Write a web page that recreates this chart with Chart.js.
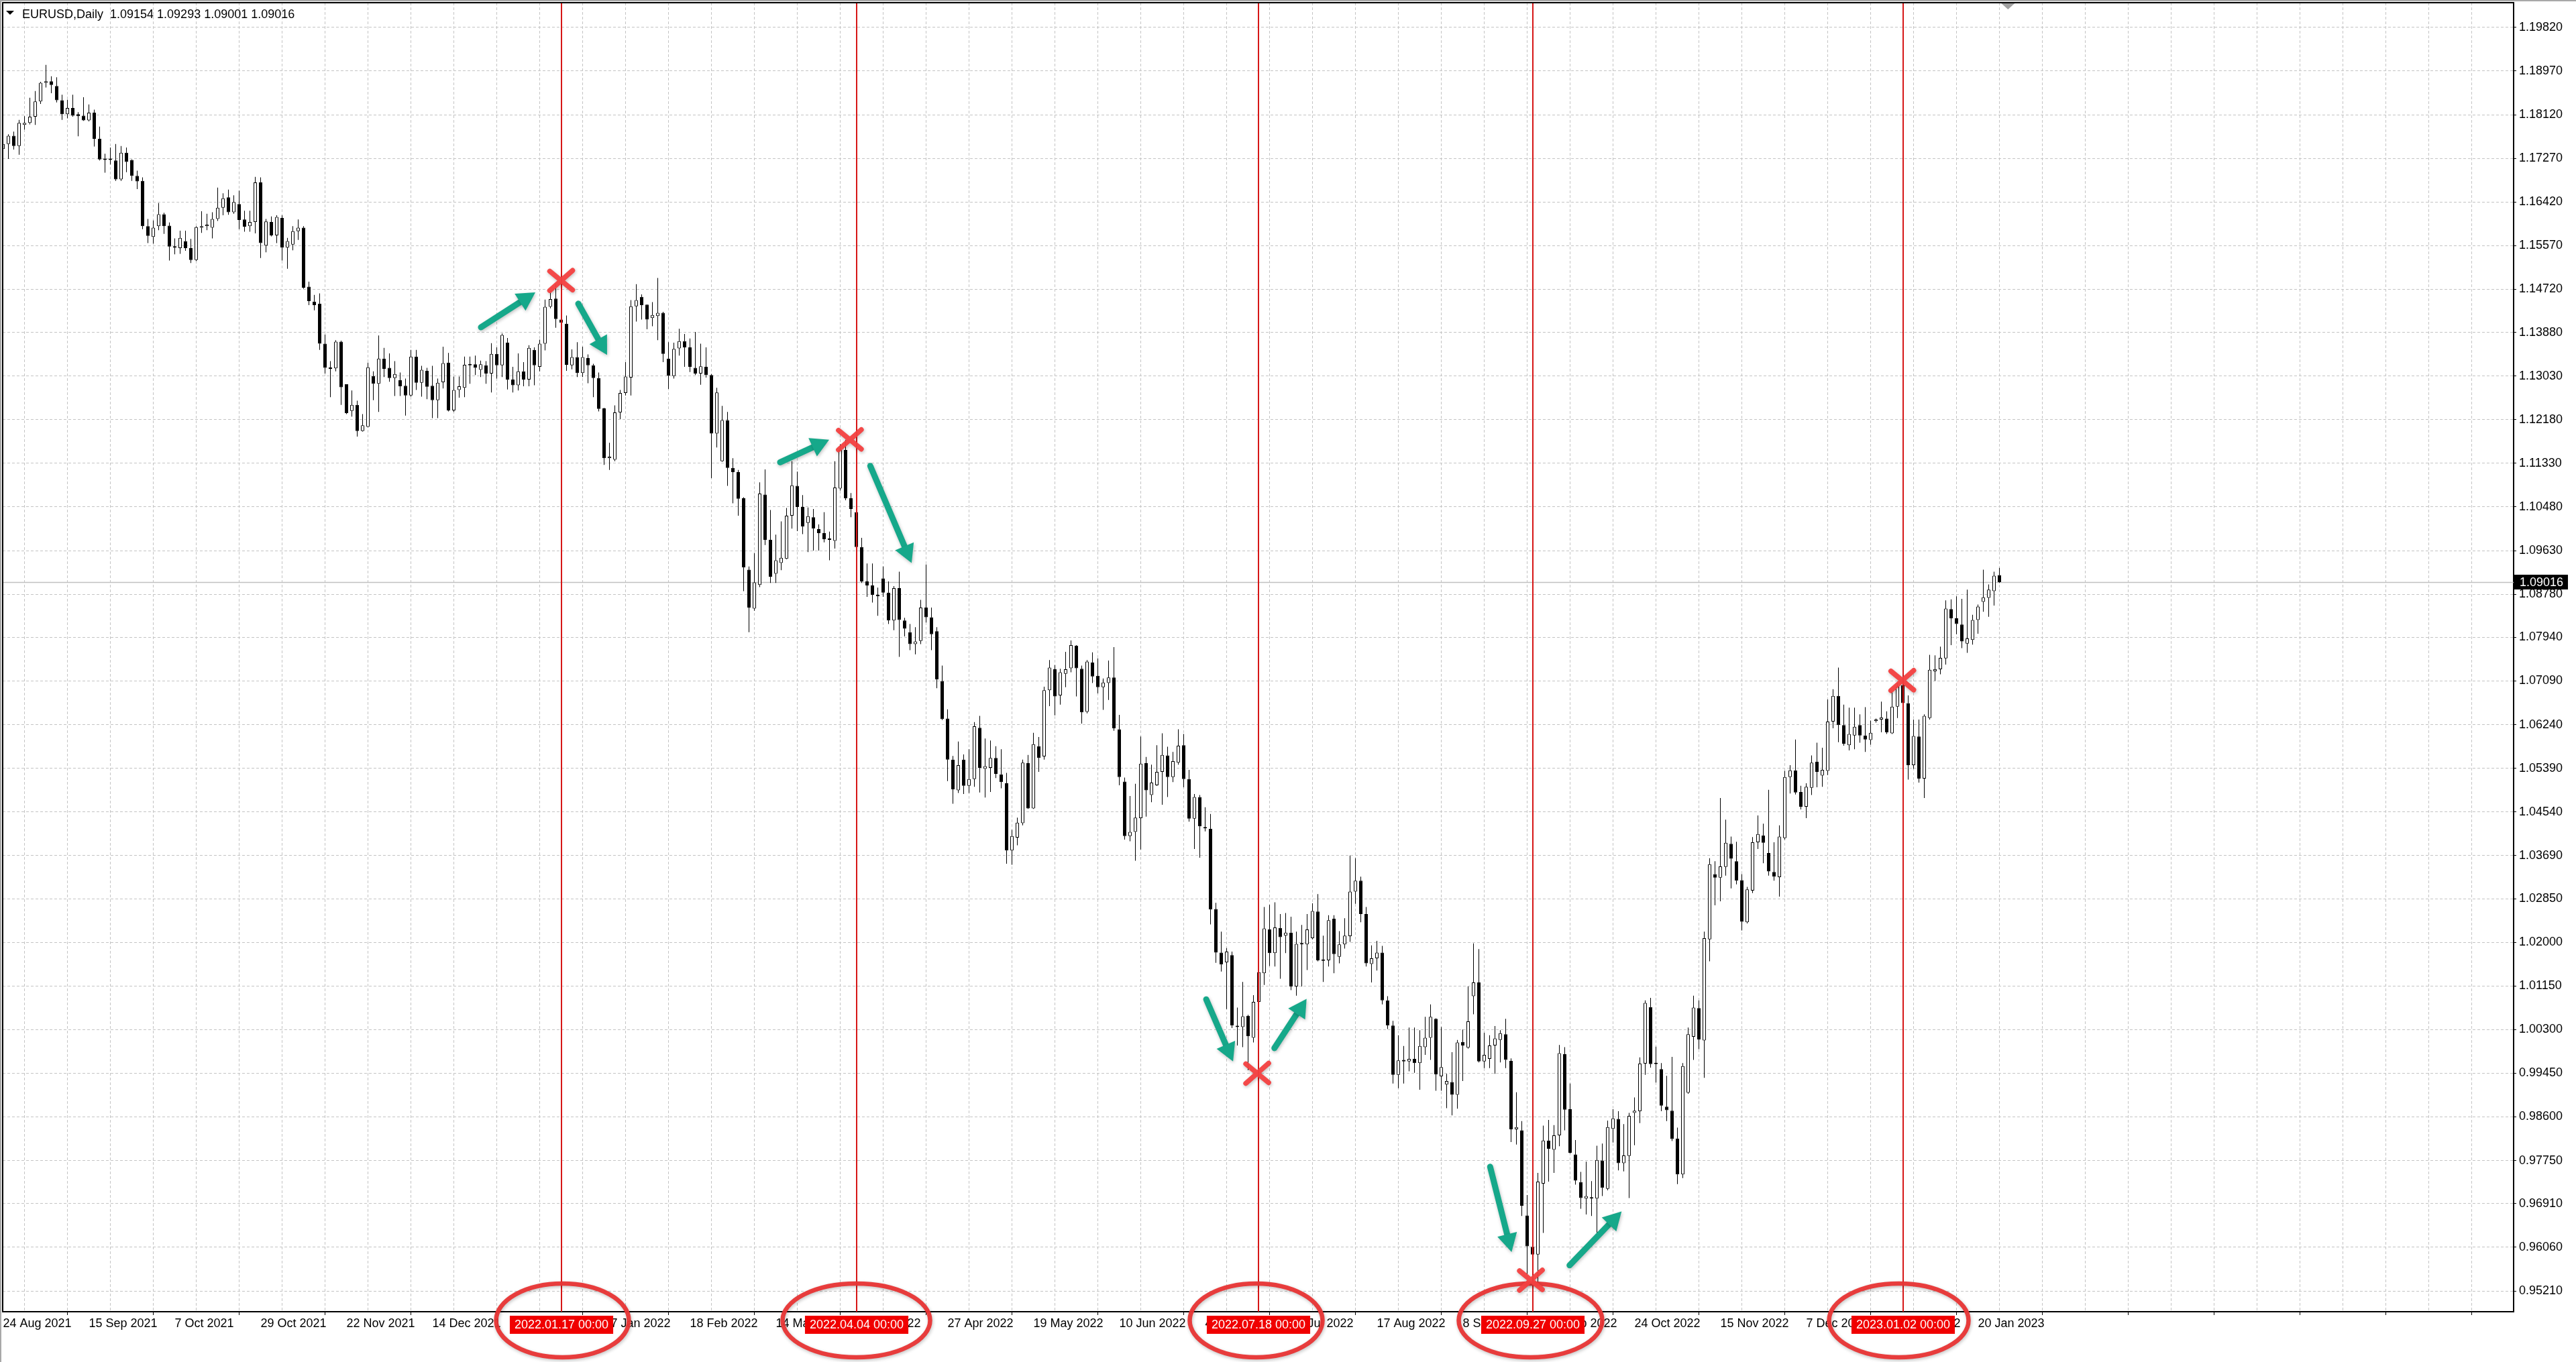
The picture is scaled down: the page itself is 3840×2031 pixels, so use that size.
<!DOCTYPE html>
<html>
<head>
<meta charset="utf-8">
<script src="https://cdn.jsdelivr.net/npm/chart.js@4.4.1/dist/chart.umd.min.js"></script>
<style>
html,body{margin:0;padding:0;background:#fff;overflow:hidden}
#wrap{position:relative;width:3840px;height:2031px}
</style>
</head>
<body>
<div id="wrap"><canvas id="c" width="3840" height="2031"></canvas></div>
<script>
// ---- EURUSD Daily, bars 0..372 (24 Aug 2021 .. 26 Jan 2023) ----
const openP = [
1.1745,1.1755,1.1771,1.1751,1.1792,1.1796,1.1808,1.1838,1.1874,1.1877,
1.1868,1.1840,1.1813,1.1825,1.1813,1.1810,1.1801,1.1816,1.1765,1.1726,
1.1725,1.1723,1.1686,1.1738,1.1724,1.1693,1.1683,1.1595,1.1574,1.1595,
1.1618,1.1596,1.1555,1.1552,1.1566,1.1552,1.1529,1.1592,1.1595,1.1592,
1.1609,1.1631,1.1651,1.1622,1.1638,1.1608,1.1595,1.1603,1.1680,1.1557,
1.1603,1.1577,1.1611,1.1553,1.1559,1.1585,1.1592,1.1477,1.1448,1.1444,
1.1366,1.1318,1.1318,1.1370,1.1287,1.1235,1.1247,1.1196,1.1204,1.1303,
1.1288,1.1337,1.1319,1.1299,1.1295,1.1284,1.1265,1.1341,1.1290,1.1313,
1.1284,1.1256,1.1291,1.1329,1.1236,1.1276,1.1280,1.1324,1.1326,1.1315,
1.1324,1.1308,1.1346,1.1324,1.1368,1.1296,1.1285,1.1312,1.1296,1.1354,
1.1321,1.1366,1.1438,1.1454,1.1413,1.1405,1.1324,1.1340,1.1309,1.1338,
1.1324,1.1299,1.1240,1.1143,1.1140,1.1232,1.1270,1.1300,1.1439,1.1457,
1.1442,1.1416,1.1420,1.1426,1.1337,1.1303,1.1357,1.1371,1.1359,1.1319,
1.1308,1.1321,1.1305,1.1191,1.1137,1.1217,1.1124,1.1116,1.1065,1.0926,
1.0850,1.0896,1.1072,1.0984,1.0918,1.0939,1.0947,1.1031,1.1089,1.1048,
1.1017,1.1028,1.1005,1.0997,1.0985,1.0982,1.1084,1.1159,1.1065,1.1038,
1.0970,1.0903,1.0895,1.0877,1.0909,1.0881,1.0827,1.0890,1.0827,1.0804,
1.0781,1.0787,1.0852,1.0833,1.0806,1.0709,1.0636,1.0556,1.0496,1.0556,
1.0505,1.0518,1.0618,1.0538,1.0540,1.0559,1.0527,1.0510,1.0379,1.0404,
1.0432,1.0549,1.0461,1.0582,1.0562,1.0691,1.0732,1.0681,1.0723,1.0734,
1.0778,1.0733,1.0649,1.0745,1.0719,1.0697,1.0705,1.0716,1.0615,1.0513,
1.0407,1.0415,1.0442,1.0549,1.0487,1.0506,1.0532,1.0564,1.0522,1.0550,
1.0584,1.0518,1.0441,1.0483,1.0424,1.0421,1.0265,1.0180,1.0161,1.0175,
1.0036,1.0035,1.0057,1.0014,1.0084,1.0140,1.0225,1.0179,1.0228,1.0213,
1.0219,1.0114,1.0198,1.0196,1.0208,1.0260,1.0165,1.0165,1.0246,1.0172,
1.0196,1.0212,1.0299,1.0320,1.0255,1.0158,1.0169,1.0180,1.0087,1.0038,
0.9942,0.9971,0.9968,0.9973,0.9965,0.9996,1.0014,1.0051,0.9939,0.9923,
0.9928,0.9903,1.0006,0.9995,1.0095,1.0122,0.9968,0.9973,0.9999,1.0010,
1.0021,0.9969,0.9836,0.9834,0.9668,0.9607,0.9592,0.9730,0.9814,0.9796,
0.9824,0.9982,0.9875,0.9787,0.9733,0.9701,0.9702,0.9701,0.9775,0.9720,
0.9837,0.9856,0.9770,0.9784,0.9868,0.9871,0.9964,1.0074,0.9963,0.9953,
0.9880,0.9872,0.9818,0.9748,0.9907,1.0016,1.0072,1.0009,1.0206,1.0333,
1.0326,1.0347,1.0392,1.0358,1.0321,1.0239,1.0301,1.0395,1.0408,1.0374,
1.0337,1.0327,1.0403,1.0522,1.0535,1.0493,1.0464,1.0501,1.0552,1.0525,
1.0534,1.0630,1.0680,1.0623,1.0584,1.0603,1.0623,1.0603,1.0594,1.0631,
1.0634,1.0636,1.0607,1.0659,1.0701,1.0666,1.0545,1.0601,1.0519,1.0637,
1.0728,1.0732,1.0753,1.0849,1.0831,1.0819,1.0782,1.0789,1.0828,1.0863,
1.0871,1.0884,1.09154
];
const highP = [
1.1766,1.1774,1.1779,1.1802,1.1809,1.1845,1.1858,1.1876,1.1909,1.1887,
1.1885,1.1851,1.1841,1.1851,1.1817,1.1846,1.1832,1.1822,1.1789,1.1736,
1.1748,1.1755,1.1751,1.1748,1.1725,1.1703,1.1690,1.1609,1.1606,1.1640,
1.1621,1.1602,1.1571,1.1586,1.1586,1.1570,1.1595,1.1624,1.1619,1.1622,
1.1670,1.1659,1.1666,1.1655,1.1664,1.1625,1.1625,1.1691,1.1690,1.1609,
1.1614,1.1616,1.1616,1.1572,1.1595,1.1608,1.1595,1.1487,1.1461,1.1464,
1.1384,1.1332,1.1373,1.1372,1.1287,1.1275,1.1255,1.1229,1.1329,1.1312,
1.1382,1.1358,1.1347,1.1332,1.1310,1.1298,1.1354,1.1354,1.1323,1.1319,
1.1323,1.1298,1.1360,1.1348,1.1302,1.1302,1.1341,1.1341,1.1343,1.1333,
1.1332,1.1367,1.1359,1.1386,1.1377,1.1321,1.1347,1.1330,1.1363,1.1359,
1.1374,1.1452,1.1469,1.1482,1.1428,1.1421,1.1355,1.1369,1.1360,1.1345,
1.1327,1.1310,1.1241,1.1173,1.1246,1.1276,1.1330,1.1451,1.1482,1.1462,
1.1442,1.1447,1.1494,1.1428,1.1369,1.1368,1.1395,1.1385,1.1376,1.1389,
1.1366,1.1359,1.1307,1.1280,1.1245,1.1233,1.1143,1.1120,1.1067,1.0932,
1.0958,1.1096,1.1121,1.1042,1.0994,1.1020,1.1046,1.1137,1.1117,1.1071,
1.1047,1.1044,1.1014,1.1038,1.1000,1.1137,1.1170,1.1179,1.1075,1.1045,
1.0988,1.0938,1.0938,1.0891,1.0932,1.0903,1.0894,1.0922,1.0832,1.0820,
1.0814,1.0867,1.0936,1.0852,1.0814,1.0739,1.0654,1.0563,1.0591,1.0566,
1.0576,1.0629,1.0641,1.0597,1.0593,1.0582,1.0576,1.0530,1.0419,1.0443,
1.0556,1.0565,1.0608,1.0600,1.0698,1.0750,1.0740,1.0733,1.0766,1.0788,
1.0779,1.0739,1.0750,1.0765,1.0753,1.0714,1.0749,1.0775,1.0643,1.0521,
1.0485,1.0509,1.0601,1.0561,1.0546,1.0584,1.0607,1.0581,1.0571,1.0615,
1.0606,1.0536,1.0489,1.0487,1.0463,1.0450,1.0277,1.0221,1.0189,1.0182,
1.0073,1.0123,1.0059,1.0097,1.0160,1.0269,1.0273,1.0278,1.0255,1.0257,
1.0250,1.0221,1.0234,1.0255,1.0276,1.0294,1.0213,1.0253,1.0253,1.0222,
1.0247,1.0369,1.0364,1.0328,1.0269,1.0194,1.0203,1.0193,1.0095,1.0047,
1.0019,0.9998,1.0034,1.0034,1.0029,1.0055,1.0079,1.0052,1.0035,0.9944,
0.9986,1.0010,1.0030,1.0114,1.0198,1.0187,1.0024,1.0019,1.0037,1.0029,
1.0051,0.9974,0.9908,0.9852,0.9708,0.9665,0.9751,0.9843,0.9854,0.9844,
1.0000,0.9996,0.9925,0.9815,0.9753,0.9773,0.9735,0.9804,0.9808,0.9853,
0.9875,0.9871,0.9846,0.9868,0.9898,0.9976,1.0087,1.0092,0.9997,0.9965,
0.9940,0.9977,0.9839,0.9965,1.0034,1.0096,1.0087,1.0221,1.0364,1.0358,
1.0481,1.0439,1.0406,1.0396,1.0333,1.0308,1.0405,1.0447,1.0431,1.0497,
1.0395,1.0428,1.0534,1.0545,1.0595,1.0505,1.0510,1.0564,1.0589,1.0579,
1.0673,1.0693,1.0735,1.0663,1.0657,1.0657,1.0644,1.0658,1.0632,1.0636,
1.0669,1.0650,1.0688,1.0705,1.0713,1.0681,1.0634,1.0634,1.0644,1.0760,
1.0759,1.0776,1.0866,1.0868,1.0874,1.0869,1.0887,1.0838,1.0858,1.0926,
1.0897,1.0922,1.09293
];
const lowP = [
1.1727,1.1726,1.1744,1.1734,1.1783,1.1793,1.1792,1.1833,1.1865,1.1854,
1.1836,1.1802,1.1805,1.1808,1.1770,1.1800,1.1799,1.1750,1.1723,1.1699,
1.1715,1.1683,1.1683,1.1700,1.1683,1.1667,1.1589,1.1562,1.1561,1.1587,
1.1580,1.1528,1.1540,1.1541,1.1547,1.1523,1.1527,1.1582,1.1587,1.1571,
1.1605,1.1616,1.1617,1.1619,1.1589,1.1584,1.1584,1.1581,1.1533,1.1544,
1.1575,1.1562,1.1528,1.1512,1.1548,1.1568,1.1473,1.1441,1.1431,1.1354,
1.1308,1.1262,1.1312,1.1247,1.1229,1.1224,1.1185,1.1195,1.1203,1.1256,
1.1233,1.1301,1.1292,1.1264,1.1264,1.1226,1.1263,1.1276,1.1263,1.1258,
1.1221,1.1221,1.1279,1.1234,1.1233,1.1261,1.1262,1.1288,1.1305,1.1301,
1.1288,1.1271,1.1298,1.1301,1.1277,1.1271,1.1275,1.1283,1.1283,1.1285,
1.1312,1.1353,1.1435,1.1397,1.1396,1.1313,1.1316,1.1301,1.1301,1.1289,
1.1262,1.1234,1.1130,1.1120,1.1137,1.1219,1.1265,1.1265,1.1409,1.1413,
1.1394,1.1400,1.1373,1.1330,1.1278,1.1298,1.1343,1.1321,1.1311,1.1305,
1.1286,1.1300,1.1104,1.1164,1.1136,1.1089,1.1055,1.1031,1.0884,1.0804,
1.0846,1.0892,1.0974,1.0900,1.0900,1.0925,1.0946,1.1006,1.1001,1.0995,
1.0960,1.0963,1.0963,1.0979,1.0944,1.0967,1.1080,1.1061,1.1028,1.0968,
1.0900,1.0873,1.0862,1.0836,1.0873,1.0820,1.0808,1.0756,1.0796,1.0769,
1.0761,1.0781,1.0823,1.0769,1.0695,1.0633,1.0514,1.0470,1.0491,1.0489,
1.0491,1.0503,1.0492,1.0482,1.0493,1.0520,1.0500,1.0353,1.0351,1.0389,
1.0428,1.0460,1.0460,1.0532,1.0556,1.0660,1.0642,1.0663,1.0697,1.0726,
1.0679,1.0626,1.0646,1.0705,1.0685,1.0653,1.0672,1.0612,1.0506,1.0400,
1.0397,1.0359,1.0381,1.0445,1.0473,1.0505,1.0468,1.0483,1.0512,1.0546,
1.0502,1.0435,1.0382,1.0365,1.0416,1.0235,1.0160,1.0143,1.0070,1.0033,
0.9999,0.9996,0.9951,1.0005,1.0078,1.0117,1.0154,1.0153,1.0129,1.0179,
1.0107,1.0096,1.0114,1.0146,1.0206,1.0163,1.0123,1.0153,1.0140,1.0159,
1.0188,1.0201,1.0275,1.0239,1.0153,1.0122,1.0145,1.0079,1.0031,0.9925,
0.9916,0.9925,0.9949,0.9946,0.9913,0.9981,0.9971,0.9911,0.9911,0.9877,
0.9863,0.9876,0.9930,0.9993,1.0060,0.9966,0.9955,0.9955,0.9944,0.9966,
0.9955,0.9811,0.9806,0.9667,0.9553,0.9575,0.9534,0.9634,0.9734,0.9751,
0.9803,0.9834,0.9789,0.9728,0.9681,0.9670,0.9667,0.9634,0.9706,0.9717,
0.9810,0.9756,0.9754,0.9702,0.9805,0.9848,0.9942,0.9956,0.9927,0.9871,
0.9852,0.9813,0.9729,0.9741,0.9905,0.9971,0.9992,0.9936,1.0163,1.0272,
1.0280,1.0330,1.0305,1.0313,1.0223,1.0237,1.0296,1.0382,1.0354,1.0330,
1.0320,1.0289,1.0400,1.0490,1.0488,1.0459,1.0442,1.0487,1.0502,1.0503,
1.0526,1.0617,1.0590,1.0583,1.0574,1.0576,1.0589,1.0571,1.0585,1.0628,
1.0609,1.0606,1.0606,1.0637,1.0655,1.0517,1.0538,1.0511,1.0481,1.0634,
1.0709,1.0722,1.0741,1.0779,1.0800,1.0773,1.0764,1.0780,1.0801,1.0844,
1.0834,1.0856,1.09001
];
const closeP = [
1.1755,1.1771,1.1751,1.1796,1.1796,1.1808,1.1838,1.1874,1.1877,1.1870,
1.1840,1.1813,1.1825,1.1810,1.1809,1.1801,1.1816,1.1765,1.1725,1.1724,
1.1724,1.1686,1.1738,1.1720,1.1693,1.1682,1.1595,1.1576,1.1592,1.1618,
1.1595,1.1555,1.1553,1.1572,1.1552,1.1529,1.1593,1.1595,1.1598,1.1609,
1.1631,1.1649,1.1622,1.1642,1.1607,1.1594,1.1603,1.1680,1.1562,1.1604,
1.1577,1.1613,1.1553,1.1566,1.1585,1.1592,1.1475,1.1449,1.1441,1.1366,
1.1319,1.1317,1.1370,1.1281,1.1231,1.1247,1.1196,1.1207,1.1320,1.1288,
1.1337,1.1317,1.1299,1.1307,1.1283,1.1265,1.1341,1.1290,1.1315,1.1282,
1.1256,1.1290,1.1328,1.1236,1.1276,1.1283,1.1325,1.1326,1.1319,1.1326,
1.1308,1.1346,1.1324,1.1383,1.1296,1.1285,1.1312,1.1296,1.1358,1.1324,
1.1366,1.1438,1.1453,1.1414,1.1407,1.1325,1.1340,1.1309,1.1340,1.1324,
1.1299,1.1239,1.1143,1.1146,1.1232,1.1270,1.1302,1.1439,1.1451,1.1441,
1.1413,1.1422,1.1426,1.1346,1.1304,1.1356,1.1371,1.1359,1.1321,1.1308,
1.1322,1.1305,1.1191,1.1271,1.1217,1.1124,1.1116,1.1064,1.0930,1.0852,
1.0901,1.1074,1.0984,1.0912,1.0944,1.0949,1.1031,1.1090,1.1048,1.1010,
1.1030,1.1006,1.0997,1.0985,1.0984,1.1086,1.1159,1.1065,1.1044,1.0970,
1.0903,1.0895,1.0877,1.0874,1.0881,1.0827,1.0890,1.0828,1.0811,1.0781,
1.0786,1.0852,1.0833,1.0800,1.0712,1.0635,1.0556,1.0498,1.0545,1.0505,
1.0518,1.0621,1.0540,1.0543,1.0559,1.0528,1.0512,1.0379,1.0407,1.0433,
1.0550,1.0461,1.0586,1.0559,1.0691,1.0735,1.0679,1.0726,1.0732,1.0779,
1.0734,1.0648,1.0747,1.0718,1.0697,1.0706,1.0716,1.0617,1.0522,1.0407,
1.0415,1.0443,1.0548,1.0496,1.0511,1.0532,1.0565,1.0522,1.0553,1.0583,
1.0518,1.0441,1.0483,1.0426,1.0422,1.0264,1.0180,1.0157,1.0182,1.0038,
1.0035,1.0056,1.0017,1.0084,1.0142,1.0227,1.0179,1.0229,1.0210,1.0219,
1.0114,1.0197,1.0196,1.0225,1.0261,1.0165,1.0164,1.0243,1.0177,1.0196,
1.0213,1.0299,1.0320,1.0255,1.0159,1.0169,1.0180,1.0087,1.0038,0.9942,
0.9970,0.9968,0.9973,0.9965,0.9998,1.0014,1.0055,0.9943,0.9957,0.9930,
0.9903,1.0005,0.9999,1.0046,1.0122,0.9968,0.9981,0.9999,1.0013,1.0023,
0.9971,0.9836,0.9840,0.9687,0.9608,0.9592,0.9734,0.9814,0.9798,0.9824,
0.9984,0.9874,0.9790,0.9736,0.9702,0.9706,0.9701,0.9776,0.9722,0.9840,
0.9857,0.9770,0.9785,0.9862,0.9872,0.9964,1.0082,0.9963,0.9965,0.9882,
0.9873,0.9817,0.9748,0.9959,1.0021,1.0073,1.0011,1.0208,1.0352,1.0326,
1.0348,1.0394,1.0363,1.0320,1.0240,1.0303,1.0395,1.0411,1.0394,1.0338,
1.0328,1.0406,1.0522,1.0535,1.0492,1.0464,1.0503,1.0550,1.0532,1.0536,
1.0630,1.0680,1.0623,1.0587,1.0606,1.0620,1.0603,1.0595,1.0608,1.0634,
1.0638,1.0609,1.0659,1.0698,1.0666,1.0545,1.0602,1.0519,1.0641,1.0731,
1.0732,1.0754,1.0850,1.0831,1.0820,1.0786,1.0792,1.0828,1.0854,1.0872,
1.0887,1.0914,1.09016
];

// time-axis labels (one every 16 bars, starting at bar 0)
const dateLabels = ['24 Aug 2021','15 Sep 2021','7 Oct 2021','29 Oct 2021','22 Nov 2021','14 Dec 2021',
  '5 Jan 2022','27 Jan 2022','18 Feb 2022','14 Mar 2022','5 Apr 2022','27 Apr 2022','19 May 2022',
  '10 Jun 2022','4 Jul 2022','26 Jul 2022','17 Aug 2022','8 Sep 2022','30 Sep 2022','24 Oct 2022',
  '15 Nov 2022','7 Dec 2022','29 Dec 2022','20 Jan 2023'];
// price-axis tick labels
const priceTickLabels = ['1.19820','1.18970','1.18120','1.17270','1.16420','1.15570','1.14720','1.13880',
  '1.13030','1.12180','1.11330','1.10480','1.09630','1.08780','1.07940','1.07090','1.06240','1.05390',
  '1.04540','1.03690','1.02850','1.02000','1.01150','1.00300','0.99450','0.98600','0.97750','0.96910',
  '0.96060','0.95210'];
const priceTicks = priceTickLabels.map(Number);
const lastPrice = 1.09016;
const headerSymbol = 'EURUSD,Daily';
const headerValues = '1.09154 1.09293 1.09001 1.09016';

// vertical-line markers (bar index) and their labels
const markerBars = [104, 159, 234, 285, 354];
const markerLabels = ['2022.01.17 00:00','2022.04.04 00:00','2022.07.18 00:00','2022.09.27 00:00','2023.01.02 00:00'];
// hand-drawn annotations, anchored in data space [bar, price]
const crossMarks = [[104.0,1.1489],[157.8,1.1179],[233.7,0.9945],[284.7,0.9542],[353.9,1.0710]];
const arrowMarks = [
  [89.06,1.1398, 99.19,1.1466],
  [107.19,1.1444, 112.56,1.1344],
  [144.8,1.1135, 153.94,1.1179],
  [161.6,1.1128, 169.3,1.0939],
  [224.2,1.0089, 229.2,0.9968],
  [236.9,0.9994, 242.9,1.0090],
  [277.1,0.9763, 281.1,0.9597],
  [291.9,0.9571, 301.6,0.9676]
];

// ---- styles / layout ----
const FONT = '"Liberation Sans", Arial, sans-serif';
Chart.defaults.font.family = FONT;
Chart.defaults.font.size = 18;
Chart.defaults.color = '#000';
const ellipseStyle = [{dx:2,rx:99},{dx:0,rx:110},{dx:-4,rx:99},{dx:-3,rx:107},{dx:-6,rx:104}];
const gridBars = [];
for (let v = 0; v <= 464; v += 8) gridBars.push(v);

const bodyData = openP.map((o,i)=>({x:i, y:[o, closeP[i]]}));
const wickData = lowP.map((l,i)=>({x:i, y:[l, highP[i]]}));
const bodyFill = openP.map((o,i)=> closeP[i] >= o ? '#ffffff' : '#000000');

function drawArrow(ctx, x1, y1, x2, y2){
  const dx = x2-x1, dy = y2-y1, len = Math.hypot(dx,dy);
  const ux = dx/len, uy = dy/len, nx = -uy, ny = ux;
  const HL = 27, HW = 15;
  const bx = x2 - ux*HL, by = y2 - uy*HL;
  ctx.beginPath(); ctx.moveTo(x1,y1); ctx.lineTo(bx+ux*4,by+uy*4); ctx.stroke();
  ctx.beginPath(); ctx.moveTo(x2,y2); ctx.lineTo(bx+nx*HW,by+ny*HW); ctx.lineTo(bx-nx*HW,by-ny*HW); ctx.closePath(); ctx.fill();
}

const mt4Plugin = {
  id:'mt4',
  beforeDraw(chart){
    const c = chart.ctx; c.save(); c.fillStyle = '#fff'; c.fillRect(0,0,chart.width,chart.height); c.restore();
  },
  beforeDatasetsDraw(chart){
    const {ctx, chartArea:a, scales:{y}} = chart;
    const py = Math.round(y.getPixelForValue(lastPrice)) + 0.5;
    ctx.save(); ctx.strokeStyle = '#c0c0c0'; ctx.lineWidth = 1.5;
    ctx.beginPath(); ctx.moveTo(a.left, py); ctx.lineTo(a.right, py); ctx.stroke(); ctx.restore();
  },
  afterDatasetsDraw(chart){
    const {ctx, chartArea:a, scales:{x}} = chart;
    ctx.save(); ctx.strokeStyle = 'rgb(214,22,22)'; ctx.lineWidth = 2;
    markerBars.forEach(b => { const px = Math.round(x.getPixelForValue(b));
      ctx.beginPath(); ctx.moveTo(px, a.top); ctx.lineTo(px, a.bottom); ctx.stroke(); });
    ctx.restore();
  },
  afterDraw(chart){
    const {ctx, chartArea:a, scales:{x, y}} = chart;
    ctx.save();
    // window + frame
    ctx.fillStyle = '#a8a8a8'; ctx.fillRect(0,0,chart.width,2); ctx.fillRect(0,0,2,chart.height);
    ctx.strokeStyle = '#000'; ctx.lineWidth = 2;
    ctx.beginPath(); ctx.moveTo(a.left, a.bottom); ctx.lineTo(a.left, a.top); ctx.lineTo(a.right, a.top); ctx.stroke();
    // shift marker
    const sx = x.getPixelForValue(373.6);
    ctx.fillStyle = '#a0a0a0'; ctx.beginPath(); ctx.moveTo(sx-10, a.top+1); ctx.lineTo(sx+10, a.top+1); ctx.lineTo(sx, a.top+10); ctx.closePath(); ctx.fill();
    // header
    ctx.fillStyle = '#000'; ctx.beginPath(); ctx.moveTo(9,16); ctx.lineTo(21,16); ctx.lineTo(15,22); ctx.closePath(); ctx.fill();
    ctx.font = '18px ' + FONT; ctx.textBaseline = 'alphabetic'; ctx.textAlign = 'left';
    ctx.fillText(headerSymbol, 33, 27);
    ctx.fillText(headerValues, 33 + ctx.measureText(headerSymbol + '  ').width, 27);
    // current price box
    const py = Math.round(y.getPixelForValue(lastPrice));
    ctx.fillStyle = '#000'; ctx.fillRect(a.right+1, py-11, 80, 22);
    ctx.fillStyle = '#fff'; ctx.textBaseline = 'middle'; ctx.fillText('1.09016', a.right+9, py+1);
    // marker labels on time axis
    ctx.textAlign = 'center';
    markerBars.forEach((b,i) => {
      const px = Math.round(x.getPixelForValue(b));
      const w = ctx.measureText(markerLabels[i]).width + 14;
      ctx.fillStyle = 'rgb(240,0,0)'; ctx.fillRect(px - w/2, a.bottom + 6, w, 27);
      ctx.fillStyle = '#fff'; ctx.fillText(markerLabels[i], px, a.bottom + 20);
    });
    // ellipses
    ctx.shadowColor = 'rgba(0,0,0,0.25)'; ctx.shadowBlur = 5; ctx.shadowOffsetX = 1; ctx.shadowOffsetY = 2;
    ctx.strokeStyle = 'rgba(232,52,52,0.95)'; ctx.lineWidth = 6.5;
    markerBars.forEach((b,i) => {
      const px = x.getPixelForValue(b) + ellipseStyle[i].dx;
      ctx.beginPath(); ctx.ellipse(px, a.bottom + 13, ellipseStyle[i].rx, 55, 0, 0, Math.PI*2); ctx.stroke();
    });
    // arrows
    ctx.strokeStyle = 'rgb(22,168,138)'; ctx.fillStyle = 'rgb(22,168,138)'; ctx.lineWidth = 9; ctx.lineCap = 'round'; ctx.lineJoin = 'round';
    arrowMarks.forEach(m => drawArrow(ctx, x.getPixelForValue(m[0]), y.getPixelForValue(m[1]), x.getPixelForValue(m[2]), y.getPixelForValue(m[3])));
    // crosses
    ctx.strokeStyle = 'rgba(244,64,64,0.95)'; ctx.lineWidth = 7.5;
    crossMarks.forEach(m => {
      const cx = x.getPixelForValue(m[0]), cy = y.getPixelForValue(m[1]);
      ctx.beginPath(); ctx.moveTo(cx-17, cy-14); ctx.lineTo(cx+17, cy+14);
      ctx.moveTo(cx+17, cy-15); ctx.lineTo(cx-17, cy+15); ctx.stroke();
    });
    ctx.restore();
  }
};

const gridBase = {color:'#c4c4c4', lineWidth:1, drawTicks:true, tickLength:5, tickWidth:1, tickBorderDash:[]};

new Chart(document.getElementById('c'), {
  type: 'bar',
  data: { datasets: [
    {label:'body', data: bodyData, backgroundColor: bodyFill, borderColor:'#000', borderWidth:1,
     borderSkipped:false, barThickness:5, minBarLength:2, grouped:false, order:0, inflateAmount:0},
    {label:'wick', data: wickData, backgroundColor:'#000', borderWidth:0, barThickness:1,
     grouped:false, order:1, inflateAmount:0}
  ]},
  options: {
    responsive:false, animation:false, devicePixelRatio:1,
    layout:{padding:{left:4, top:4, right:0, bottom:0}},
    plugins:{legend:{display:false}, tooltip:{enabled:false}},
    scales:{
      x:{ type:'linear', min:-0.0625, max:467.8125, bounds:'data', offset:false,
        afterBuildTicks: s => { s.ticks = gridBars.map(v => ({value:v})); },
        afterFit: s => { s.height = 75; s.paddingLeft = 0; s.paddingRight = 0; },
        ticks:{ autoSkip:false, maxRotation:0, minRotation:0, align:'start', padding:2, color:'#000', font:{size:18},
          callback: v => (v % 16 === 0 && dateLabels[v/16]) ? dateLabels[v/16] : '' },
        grid:Object.assign({}, gridBase, {tickColor: c => (c.tick && c.tick.value % 16 === 0) ? '#000' : 'rgba(0,0,0,0)'}),
        border:{display:true, color:'#000', width:2, dash:[4,3]}
      },
      y:{ type:'linear', position:'right', min:0.94806, max:1.20302, bounds:'data',
        afterBuildTicks: s => { s.ticks = priceTicks.map(v => ({value:v})); },
        afterFit: s => { s.width = 93; s.paddingTop = 0; s.paddingBottom = 0; },
        ticks:{ autoSkip:false, padding:4, color:'#000', font:{size:18}, callback: (v,i) => priceTickLabels[i] },
        grid:Object.assign({}, gridBase, {tickColor:'#000', tickLength:4}),
        border:{display:true, color:'#000', width:2, dash:[4,3]}
      }
    }
  },
  plugins:[mt4Plugin]
});
</script>
</body>
</html>
